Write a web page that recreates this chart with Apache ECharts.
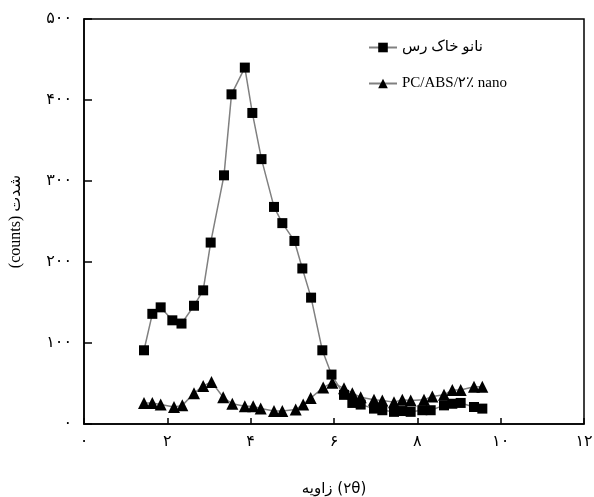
<!DOCTYPE html>
<html>
<head>
<meta charset="utf-8">
<script src="https://cdn.jsdelivr.net/npm/echarts@6/dist/echarts.min.js"></script>
<style>html,body{margin:0;padding:0;background:#fff}#c{width:594px;height:497px}</style>
</head>
<body>
<div id="c"></div>
<script>
const seriesNames = ['نانو خاک رس', 'PC/ABS/۲٪ nano'];
const xTickLabels = {0:'۰',2:'۲',4:'۴',6:'۶',8:'۸',10:'۱۰',12:'۱۲'};
const yTickLabels = {0:'۰',100:'۱۰۰',200:'۲۰۰',300:'۳۰۰',400:'۴۰۰',500:'۵۰۰'};
const xAxisTitle = 'زاویه\u200E (\u200E۲θ)';
const yAxisTitle = '(counts) شدت';
const clayX = [1.44,1.64,1.84,2.12,2.34,2.64,2.86,3.04,3.36,3.54,3.86,4.04,4.26,4.56,4.76,5.05,5.24,5.45,5.72,5.94,6.24,6.44,6.64,6.96,7.16,7.44,7.64,7.84,8.12,8.32,8.64,8.84,9.04,9.36,9.56];
const clayY = [91,136,144,128,124,146,165,224,307,407,440,384,327,268,248,226,192,156,91,61,36,26,24,19,17,15,16,15,17,17,23,25,26,21,19];
const nanoX = [1.44,1.64,1.84,2.16,2.36,2.64,2.86,3.06,3.34,3.56,3.86,4.06,4.24,4.56,4.76,5.08,5.26,5.44,5.74,5.96,6.24,6.44,6.64,6.96,7.16,7.44,7.64,7.84,8.16,8.36,8.64,8.84,9.04,9.36,9.56];
const nanoY = [26,26,24,21,23,38,47,52,33,25,22,22,19,16,16,18,24,32,45,51,44,38,33,30,29,27,30,29,30,34,36,42,42,46,46];

const zip = (xs, ys) => xs.map((x, i) => [x, ys[i]]);
const font = '"Liberation Serif", "DejaVu Sans", serif';
const numFont = '"DejaVu Sans", sans-serif';
const chart = echarts.init(document.getElementById('c'), null, {renderer: 'canvas'});
chart.setOption({
  animation: false,
  backgroundColor: '#fff',
  grid: {left: 84, right: 10, top: 19, bottom: 73, show: true, borderColor: '#000', borderWidth: 1.5, outerBoundsMode: 'none', containLabel: false},
  legend: {
    orient: 'vertical', left: 363, top: 35, itemGap: 21, itemWidth: 28, itemHeight: 12,
    textStyle: {fontFamily: font, fontSize: 15, color: '#000'},
    data: seriesNames
  },
  xAxis: {
    type: 'value', min: 0, max: 12, interval: 2,
    name: xAxisTitle, nameLocation: 'middle', nameGap: 58,
    nameTextStyle: {fontFamily: numFont, fontSize: 15, color: '#000'},
    axisLine: {lineStyle: {color: '#000', width: 1.5}},
    axisTick: {inside: true, length: 6, lineStyle: {color: '#000', width: 1.5}},
    axisLabel: {formatter: v => xTickLabels[v] ?? '', fontFamily: numFont, fontSize: 16, color: '#000', margin: 10},
    splitLine: {show: false}
  },
  yAxis: {
    type: 'value', min: 0, max: 500, interval: 100,
    name: yAxisTitle, nameLocation: 'middle', nameGap: 60, nameRotate: 90,
    nameTextStyle: {fontFamily: font, fontSize: 16, color: '#000'},
    axisLine: {lineStyle: {color: '#000', width: 1.5}},
    axisTick: {inside: true, length: 8, lineStyle: {color: '#000', width: 1.5}},
    axisLabel: {formatter: v => yTickLabels[v] ?? '', fontFamily: numFont, fontSize: 16, color: '#000', margin: 12},
    splitLine: {show: false}
  },
  series: [
    {
      name: seriesNames[0], type: 'line', data: zip(clayX, clayY),
      symbol: 'rect', symbolSize: 10,
      itemStyle: {color: '#000'},
      lineStyle: {color: '#808080', width: 1.5}
    },
    {
      name: seriesNames[1], type: 'line', data: zip(nanoX, nanoY),
      symbol: 'triangle', symbolSize: 12,
      itemStyle: {color: '#000'},
      lineStyle: {color: '#808080', width: 1.5}
    }
  ]
});
</script>
</body>
</html>
